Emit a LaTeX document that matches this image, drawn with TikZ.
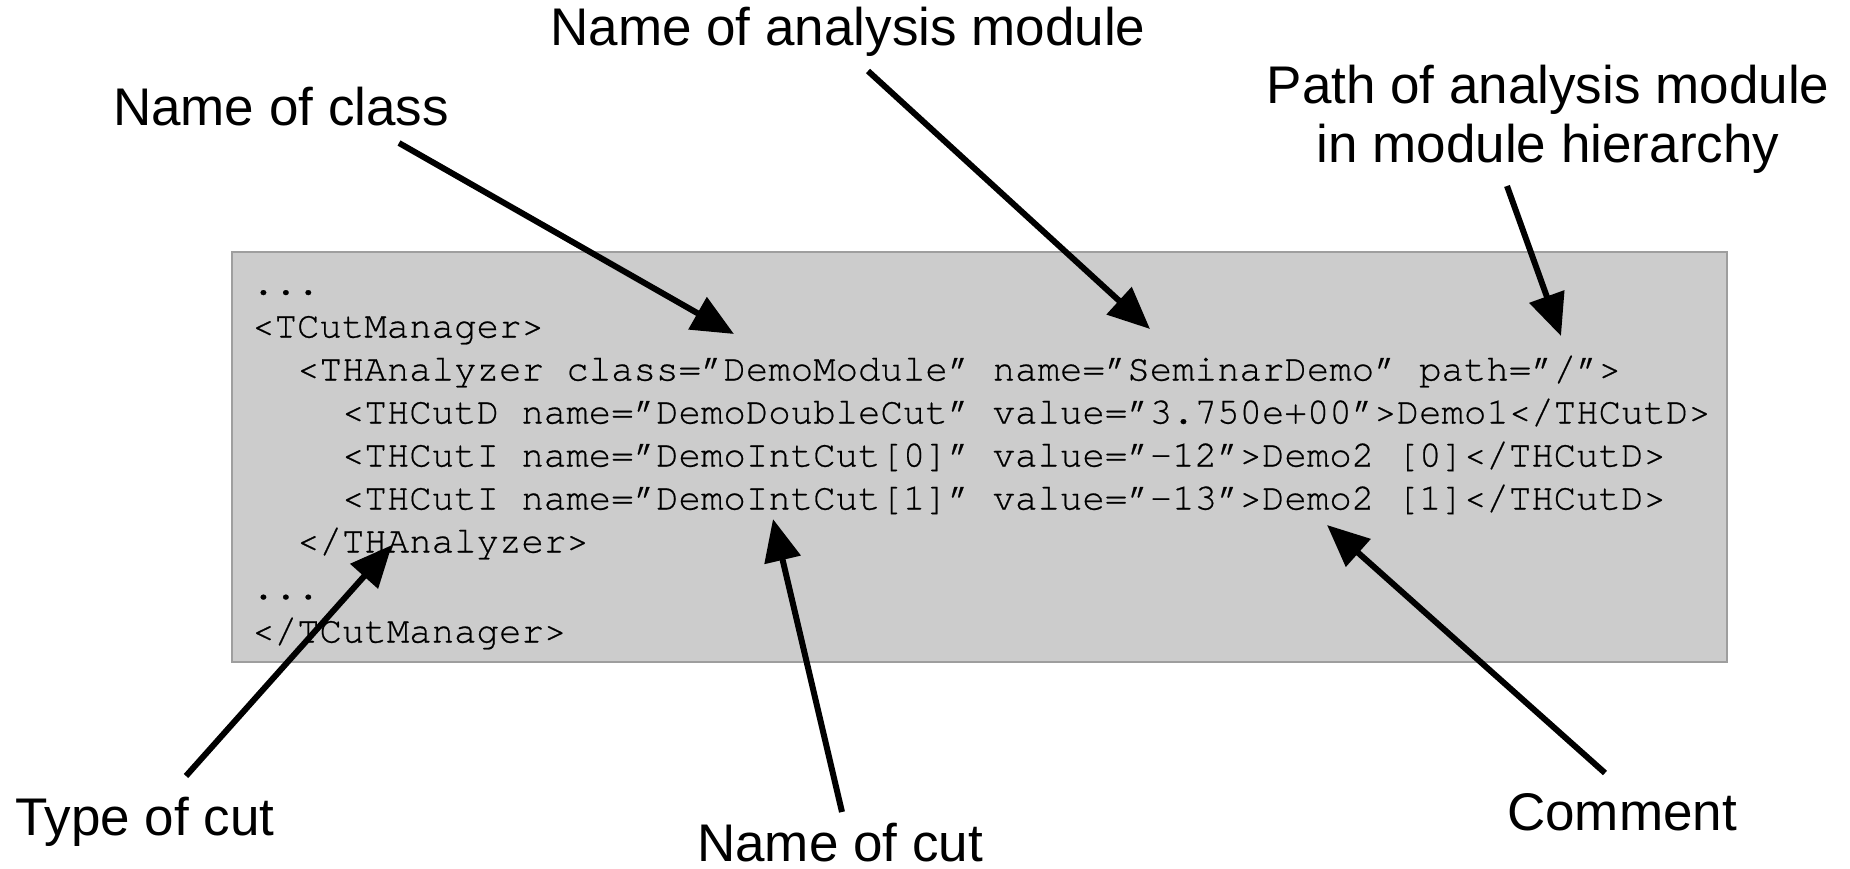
\documentclass[tikz,border=0pt]{standalone}
\usepackage{fontspec}
\setmainfont{Liberation Sans}
\newfontfamily\codefont[FakeBold=0.6]{TeX Gyre Cursor}
\usetikzlibrary{arrows.meta}

\tikzset{
  codebox/.style={draw=black!38, line width=1.2pt, fill=black!20},
  codeline/.style={anchor=base west, inner sep=0pt, font=\codefont\fontsize{37.4}{43}\selectfont},
  callout/.style={align=center, inner sep=0pt, font=\fontsize{53}{59}\selectfont},
  pointer/.style={line width=6pt, -{Triangle[length=42pt,width=36pt]}}
}

\begin{document}
\begin{tikzpicture}[x=1pt, y=-1pt]
\useasboundingbox (0,0) rectangle (1850,869);

% code listing background
\draw[codebox] (232,252) rectangle (1727,662);

% listing, one node per line
\node[codeline] (l0) at (252,294.5) {...};
\node[codeline] (l1) at (252,337.5) {<TCutManager>};
\node[codeline] (l2) at (252,380.5) {\ \ <THAnalyzer class=”DemoModule” name=”SeminarDemo” path=”/”>};
\node[codeline] (l3) at (252,423.5) {\ \ \ \ <THCutD name=”DemoDoubleCut” value=”3.750e+00”>Demo1</THCutD>};
\node[codeline] (l4) at (252,466.5) {\ \ \ \ <THCutI name=”DemoIntCut[0]” value=”-12”>Demo2 [0]</THCutD>};
\node[codeline] (l5) at (252,509.5) {\ \ \ \ <THCutI name=”DemoIntCut[1]” value=”-13”>Demo2 [1]</THCutD>};
\node[codeline] (l6) at (252,552.5) {\ \ </THAnalyzer>};
\node[codeline] (l7) at (252,599) {...};
\node[codeline] (l8) at (252,642.5) {</TCutManager>};

% explanatory labels
\node[callout] (modname) at (848,32) {Name of analysis module};
\node[callout] (clsname) at (281,107) {Name of class};
\node[callout] (path)    at (1548,119) {Path of analysis module\\in module hierarchy};
\node[callout] (cuttype) at (145,822) {Type of cut};
\node[callout] (cutname) at (840,843) {Name of cut};
\node[callout] (comment) at (1622,812) {Comment};

% arrow ends
\coordinate (clsS)  at (399,143);  \coordinate (clsT)  at (734,334);
\coordinate (modS)  at (868,71);   \coordinate (modT)  at (1150,329);
\coordinate (pathS) at (1507,186); \coordinate (pathT) at (1561,336);
\coordinate (typS)  at (186,776);  \coordinate (typT)  at (392,545);
\coordinate (cutS)  at (842,812);  \coordinate (cutT)  at (773,519);
\coordinate (comS)  at (1605,773); \coordinate (comT)  at (1327,525);

\draw[pointer] (clsS) -- (clsT);
\draw[pointer] (modS) -- (modT);
\draw[pointer] (pathS) -- (pathT);
\draw[pointer] (typS) -- (typT);
\draw[pointer] (cutS) -- (cutT);
\draw[pointer] (comS) -- (comT);
\end{tikzpicture}
\end{document}
